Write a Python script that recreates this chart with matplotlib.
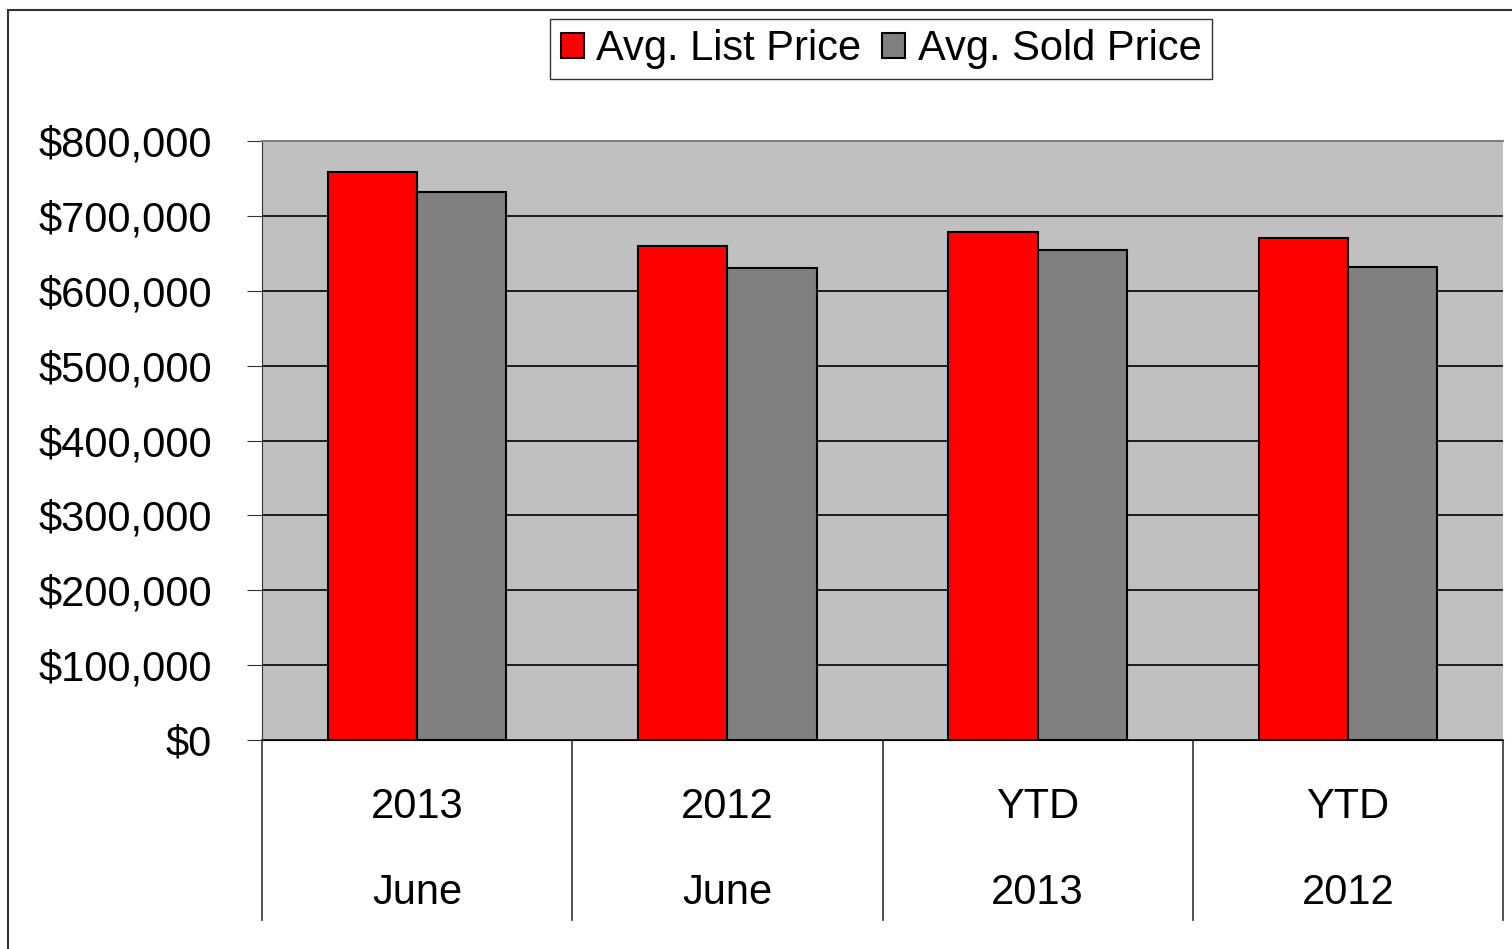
import matplotlib
matplotlib.use("Agg")
import matplotlib.pyplot as plt
from matplotlib.patches import Rectangle
from matplotlib.ticker import FuncFormatter
import numpy as np

plt.rcParams['font.family'] = ['Liberation Sans', 'DejaVu Sans']

# datos
top_labels = ["2013", "2012", "YTD", "YTD"]
bottom_labels = ["June", "June", "2013", "2012"]
list_price = [758000, 660000, 678000, 670000]
sold_price = [731500, 630000, 654000, 632000]

W, H = 1512, 949
fig = plt.figure(figsize=(W / 100, H / 100), dpi=100)
ax = fig.add_axes([262 / W, 1 - 740 / H, 1241 / W, 599 / H])

# marco exterior
fig.patches.append(Rectangle((8 / W, -0.1), 1.2, 1 - 10 / H + 0.1,
                             transform=fig.transFigure, fill=False,
                             edgecolor="#333333", lw=1.5, zorder=0))

x = np.arange(len(list_price))
bw = 0.288
ax.bar(x - bw / 2, list_price, bw, color="#FF0000", edgecolor="black", lw=1.5,
       label="Avg. List Price", zorder=3)
ax.bar(x + bw / 2, sold_price, bw, color="#808080", edgecolor="black", lw=1.5,
       label="Avg. Sold Price", zorder=3)

ax.set_facecolor("#C0C0C0")
ax.set_xlim(-0.5, len(x) - 0.5)
ax.set_ylim(0, 800000)
ax.set_yticks(np.arange(0, 800001, 100000))
ax.yaxis.set_major_formatter(FuncFormatter(lambda v, p: "${:,.0f}".format(v)))
ax.tick_params(axis="y", labelsize=30, length=11, direction="out", pad=25, color="#333333")
ax.tick_params(axis="x", bottom=False, labelbottom=False)
ax.grid(axis="y", color="black", lw=1.2, zorder=1)

ax.spines["right"].set_visible(False)
ax.spines["top"].set_color("#808080")
ax.spines["top"].set_linewidth(1.5)
ax.spines["left"].set_color("#333333")
ax.spines["bottom"].set_color("black")

# etiquetas de categoria en dos filas y divisores
for i in range(len(x)):
    ax.text(x[i], -67 / 599, top_labels[i], transform=ax.get_xaxis_transform(),
            ha="center", va="center", fontsize=30)
    ax.text(x[i], -153 / 599, bottom_labels[i], transform=ax.get_xaxis_transform(),
            ha="center", va="center", fontsize=30)
for b in np.arange(len(x) + 1) - 0.5:
    ax.plot([b, b], [0, -180 / 599], transform=ax.get_xaxis_transform(),
            color="#333333", lw=1.2, clip_on=False)

leg = ax.legend(loc="center", bbox_to_anchor=((881 - 262) / 1241, (740 - 49) / 599),
                ncol=2, fontsize=30, frameon=True, fancybox=False, edgecolor="black",
                handlelength=0.55, handleheight=0.55, handletextpad=0.3,
                columnspacing=0.5, borderpad=0.25, borderaxespad=0)
leg.get_frame().set_linewidth(1.0)

fig.savefig("out.png", dpi=100)
